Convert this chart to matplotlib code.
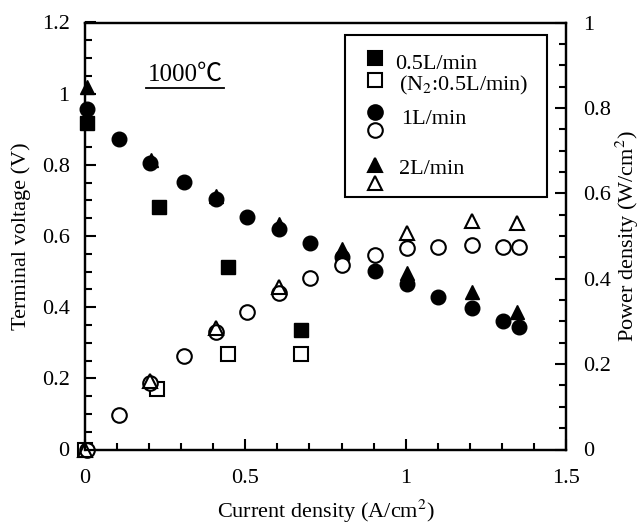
import matplotlib
matplotlib.use("Agg")
import matplotlib.pyplot as plt
from matplotlib.ticker import MultipleLocator
from matplotlib.patches import Rectangle
from matplotlib.lines import Line2D

plt.rcParams['font.family'] = ['Liberation Serif', 'DejaVu Serif']
plt.rcParams['mathtext.fontset'] = 'stix'

# 0.5 L/min (and N2 : 0.5 L/min power)
cur_05 = [0.005, 0.23, 0.447, 0.673]
volt_05 = [0.918, 0.681, 0.512, 0.336]
cur_05p = [0.0, 0.225, 0.445, 0.673]
pow_05 = [0.0, 0.141, 0.224, 0.224]

# 1 L/min
cur_1 = [0.005, 0.105, 0.203, 0.308, 0.407, 0.505, 0.604, 0.702, 0.803, 0.904,
         1.003, 1.102, 1.206, 1.304, 1.353]
volt_1 = [0.957, 0.873, 0.804, 0.753, 0.704, 0.654, 0.619, 0.581, 0.542, 0.503,
          0.465, 0.428, 0.397, 0.361, 0.345]
pow_1 = [0.0, 0.081, 0.155, 0.219, 0.276, 0.323, 0.367, 0.401, 0.432, 0.455,
         0.471, 0.475, 0.479, 0.475, 0.475]

# 2 L/min
cur_2 = [0.005, 0.205, 0.407, 0.605, 0.803, 1.003, 1.206, 1.348]
volt_2 = [1.018, 0.813, 0.712, 0.635, 0.563, 0.497, 0.444, 0.387]
cur_2p = [0.0, 0.203, 0.407, 0.605, 1.003, 1.206, 1.348]
pow_2 = [0.0, 0.16, 0.285, 0.38, 0.506, 0.535, 0.53]

fs = 16
ms = 10.5
ew = 1.5

fig = plt.figure(figsize=(6.43, 5.23), dpi=100)
ax = fig.add_axes([85/643, 1-449.5/523, 481/643, 427/523])
ax2 = ax.twinx()

# filled = voltage (left axis), hollow = power density (right axis)
ax.plot(cur_05, volt_05, 's', color='k', ms=ms-0.5, clip_on=False)
ax.plot(cur_1, volt_1, 'o', color='k', ms=ms, clip_on=False)
ax.plot(cur_2, volt_2, '^', color='k', ms=ms, clip_on=False)

ax2.plot(cur_05p, pow_05, 's', mfc='white', mec='k', mew=ew, ms=ms-0.5, clip_on=False)
ax2.plot(cur_1, pow_1, 'o', mfc='white', mec='k', mew=ew, ms=ms, clip_on=False)
ax2.plot(cur_2p, pow_2, '^', mfc='none', mec='k', mew=ew, ms=ms, clip_on=False)

ax.set_xlim(0, 1.5)
ax.set_ylim(0, 1.2)
ax2.set_ylim(0, 1)

ax.xaxis.set_major_locator(MultipleLocator(0.5))
ax.xaxis.set_minor_locator(MultipleLocator(0.1))
ax.yaxis.set_major_locator(MultipleLocator(0.2))
ax.yaxis.set_minor_locator(MultipleLocator(0.05))
ax2.yaxis.set_major_locator(MultipleLocator(0.2))
ax2.yaxis.set_minor_locator(MultipleLocator(0.05))

fmt = lambda v, p: ('%g' % round(v, 2))
ax.xaxis.set_major_formatter(fmt)
ax.yaxis.set_major_formatter(fmt)
ax2.yaxis.set_major_formatter(fmt)

ax.tick_params(axis='both', which='both', direction='in', top=False, right=False,
               labelsize=fs, width=1.5)
ax.tick_params(axis='both', which='major', length=8)
ax.tick_params(axis='both', which='minor', length=5)
ax.tick_params(axis='y', pad=11)
ax.tick_params(axis='x', pad=14)
ax2.tick_params(axis='y', which='both', direction='in', labelsize=fs, width=1.5, pad=12)
ax2.tick_params(axis='y', which='major', length=8)
ax2.tick_params(axis='y', which='minor', length=5)

for a in (ax, ax2):
    for s in a.spines.values():
        s.set_linewidth(1.6)

ax.set_xlabel('Current density (A/cm$^2$)', fontsize=fs)
ax.set_ylabel('Terminal voltage (V)', fontsize=fs)
ax2.set_ylabel('Power density (W/cm$^2$)', fontsize=fs)
ax.xaxis.set_label_coords(0.5, -0.112)
ax.yaxis.set_label_coords(-0.112, 0.5)
ax2.yaxis.set_label_coords(1.1, 0.5)

# temperature note
ax.text(0.208, 0.877, '1000℃', transform=ax.transAxes, fontsize=18,
        ha='center', va='center', family=['Liberation Serif', 'Noto Sans CJK JP'])
ax.add_line(Line2D([0.127, 0.290], [0.847, 0.847], transform=ax.transAxes,
                   color='k', lw=1.3))

# legend drawn by hand (paired filled / hollow symbols)
ax2.add_patch(Rectangle((0.5405, 0.5913), 0.42, 0.3794, transform=ax2.transAxes,
                        fill=False, ec='k', lw=1.5, zorder=5))
leg_markers = [('s', True, 0.917), ('s', False, 0.865), ('o', True, 0.790),
               ('o', False, 0.748), ('^', True, 0.666), ('^', False, 0.624)]
for mk, filled, yy in leg_markers:
    ax2.plot([0.603], [yy], mk, transform=ax2.transAxes, ms=ms - (0.5 if mk == 's' else 0),
             mfc='k' if filled else 'white', mec='k', mew=ew, zorder=6)
leg_texts = [('0.5L/min', 0.645, 0.902), ('(N$_2$:0.5L/min)', 0.653, 0.853),
             ('1L/min', 0.657, 0.772), ('2L/min', 0.653, 0.655)]
for txt, xx, yy in leg_texts:
    ax2.text(xx, yy, txt, transform=ax2.transAxes, fontsize=fs, ha='left',
             va='center', zorder=6)

fig.savefig('out.png', dpi=100)
